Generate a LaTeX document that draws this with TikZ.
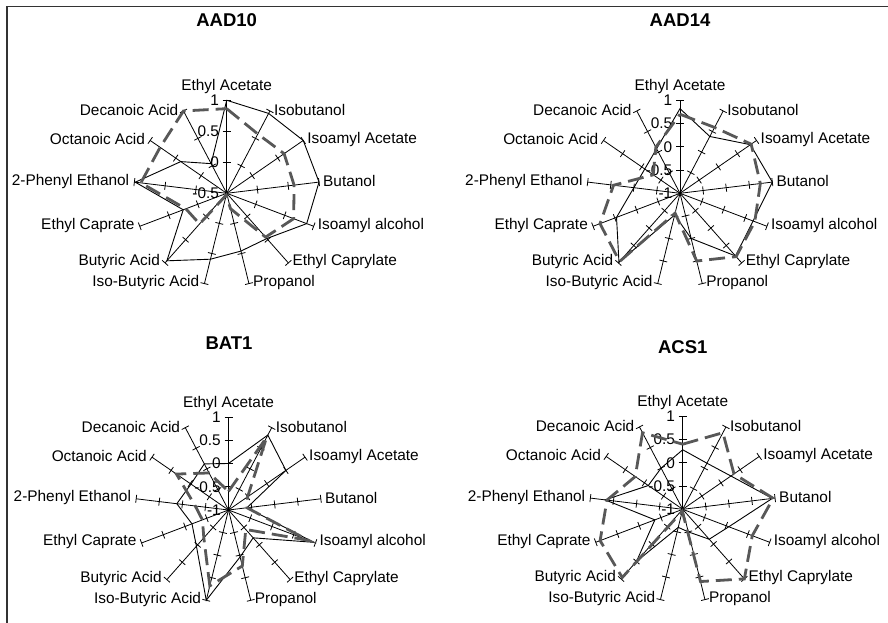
\documentclass[tikz,border=0pt]{standalone}
\usepackage{fontspec}
\setmainfont{Liberation Sans}
\usetikzlibrary{calc}
\definecolor{dashgray}{RGB}{88,88,88}
\def\cats{Ethyl Acetate,Isobutanol,Isoamyl Acetate,Butanol,Isoamyl alcohol,Ethyl Caprylate,Propanol,Iso-Butyric Acid,Butyric Acid,Ethyl Caprate,2-Phenyl Ethanol,Octanoic Acid,Decanoic Acid}
\def\R{93}
\def\tk{4}
\tikzset{
  axisline/.style={draw=black,line width=0.8pt},
  solidser/.style={draw=black,line width=0.9pt,line join=miter},
  dashser/.style={draw=dashgray,line width=2.8pt,dash pattern=on 16pt off 7pt,line join=miter},
  catlabel/.style={font=\fontsize{15.4}{18}\selectfont,inner sep=1pt},
  ticklabel/.style={font=\fontsize{15.4}{18}\selectfont,inner sep=1pt,anchor=east},
  charttitle/.style={font=\fontsize{18.5}{22}\selectfont\bfseries,inner sep=1pt},
  frameline/.style={draw=black!80,line width=1.5pt}
}
% #1 name, #2 centre, #3 intervals, #4 tick labels (centre outwards)
\newcommand\radarframe[4]{%
  \begin{scope}[shift={#2}]
    \coordinate (#1-c) at (0,0);
    \foreach \lab [count=\k from 0] in \cats {
      \pgfmathsetmacro\ang{90-\k*360/13}
      \coordinate (#1-e\k) at (\ang:\R);
      \draw[axisline] (#1-c) -- (#1-e\k);
      \foreach \t in {1,...,#3}{
        \pgfmathsetmacro\rr{\t*\R/#3}
        \draw[axisline] ($(\ang:\rr)+(\ang+90:\tk)$) -- ($(\ang:\rr)+(\ang-90:\tk)$);
      }
      \ifnum\k=0
        \node[catlabel,anchor=south] (#1-l\k) at ($(#1-e\k)+(0,5.5)$) {\lab};
      \else\ifnum\k<7
        \node[catlabel,anchor=west] (#1-l\k) at ($(#1-e\k)+(3,1)$) {\lab};
      \else
        \node[catlabel,anchor=east] (#1-l\k) at ($(#1-e\k)+(-4,1)$) {\lab};
      \fi\fi
    }
    \foreach \tl [count=\t from 0] in {#4} {
      \node[ticklabel] (#1-t\t) at (-6.5,{\t*\R/#3}) {\tl};
    }
  \end{scope}}
% #1 name, #2 centre, #3 series tag, #4 radial fractions
\newcommand\radarpoints[4]{%
  \begin{scope}[shift={#2}]
    \foreach \v [count=\k from 0] in {#4} {
      \coordinate (#1-#3\k) at ({90-\k*360/13}:{\v*\R});
    }
  \end{scope}}

\begin{document}
\begin{tikzpicture}[x=1pt,y=1pt]
\useasboundingbox (0,0) rectangle (888,623);
\draw[frameline] (7,0) -- (7,616.3) -- (888,616.3);

% ---------- AAD10 ----------
\radarframe{A}{(226.7,429.7)}{3}{-0.5,0,0.5,1}
\node[charttitle] (A-title) at (226.7,602.7) {AAD10};
\radarpoints{A}{(226.7,429.7)}{s}{1.0,0.97,1.0,1.0,0.92,0.65,0.64,0.73,0.97,0.5,0.99,0.6,0.36}
\radarpoints{A}{(226.7,429.7)}{d}{0.91,0.72,0.75,0.73,0.77,0.63,0.17,0.02,0.44,0.47,0.93,0.87,1.0}
\draw[solidser] (A-s0) \foreach \k in {1,...,12}{ -- (A-s\k)} -- cycle;
\draw[dashser] (A-d0) \foreach \k in {1,...,12}{ -- (A-d\k)} -- cycle;

% ---------- AAD14 ----------
\radarframe{B}{(680,429.7)}{4}{-1,-0.5,0,0.5,1}
\node[charttitle] (B-title) at (680,602.7) {AAD14};
\radarpoints{B}{(680,429.7)}{s}{0.91,0.69,0.92,1.0,0.84,0.9,0.5,0.24,0.99,0.73}
\radarpoints{B}{(680,429.7)}{d}{0.85,0.8,0.93,0.87,0.86,0.91,0.75,0.22,0.98,0.92,0.72,0.35,0.56}
\draw[solidser] (B-s0) \foreach \k in {1,...,9}{ -- (B-s\k)} -- cycle;
\draw[dashser] (B-d0) \foreach \k in {1,...,12}{ -- (B-d\k)} -- cycle;

% ---------- BAT1 ----------
\radarframe{C}{(228.5,113)}{4}{-1,-0.5,0,0.5,1}
\node[charttitle] (C-title) at (229,279.7) {BAT1};
\radarpoints{C}{(228.5,113)}{s}{0.5,0.91,0.75,0.2,0.98,0.4,0.52,1.0,0.52,0.42,0.56,0.49,0.56}
\radarpoints{C}{(228.5,113)}{d}{0.2,0.88,0.25,0.2,0.92,0.28,0.62,0.84,0.4,0.3,0.36,0.68,0.45}
\draw[solidser] (C-s0) \foreach \k in {1,...,12}{ -- (C-s\k)} -- cycle;
\draw[dashser] (C-d0) \foreach \k in {1,...,12}{ -- (C-d\k)} -- cycle;

% ---------- ACS1 ----------
\radarframe{D}{(682.7,113.7)}{4}{-1,-0.5,0,0.5,1}
\node[charttitle] (D-title) at (682.7,276.3) {ACS1};
\radarpoints{D}{(682.7,113.7)}{s}{0.64,0.56,0.63,0.97,0.53,0.43,0.25,0.2,0.75,0.32,0.84,0.45,0.5}
\radarpoints{D}{(682.7,113.7)}{d}{0.7,0.93,0.67,0.98,0.8,1.0,0.8,0.02,0.98,0.95,0.82,0.62,0.93}
\draw[solidser] (D-s0) \foreach \k in {1,...,12}{ -- (D-s\k)} -- cycle;
\draw[dashser] (D-d0) \foreach \k in {1,...,12}{ -- (D-d\k)} -- cycle;
\end{tikzpicture}
\end{document}
